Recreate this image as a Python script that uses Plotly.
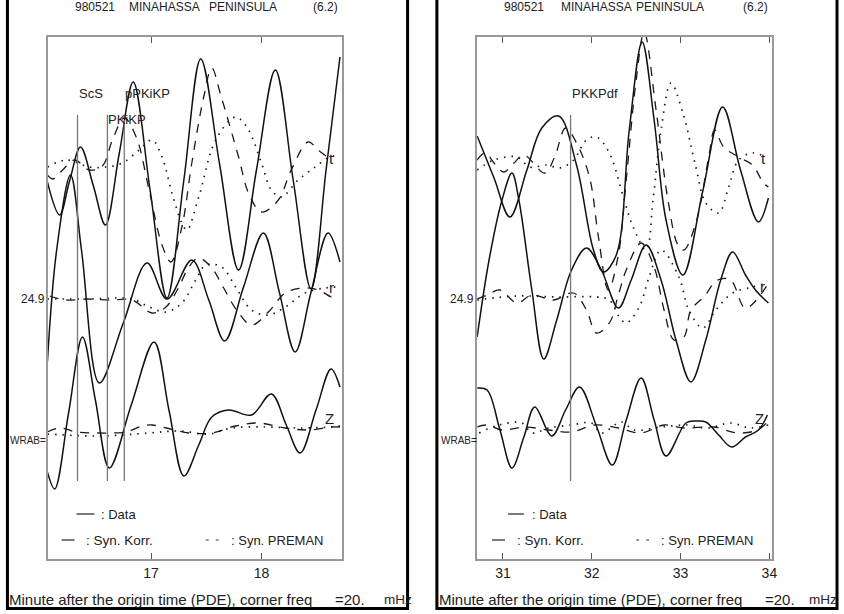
import plotly.graph_objects as go

W, H = 844, 614

# ---------------- data: minutes after origin time / relative amplitude ----------------
# Trace baselines (vertical offsets of the three components)
T_BASE, R_BASE, Z_BASE = 396, 260, 127

# ----- left window (16 - 18.7 min) -----
LT_DATA_X = [16.06, 16.171, 16.261, 16.360, 16.477, 16.586, 16.712, 16.838, 16.991, 17.144, 17.297, 17.450, 17.622, 17.793, 17.955, 18.126, 18.288, 18.450, 18.586, 18.712]
LT_DATA_Y = [-19, -52, -18, 16, -23, -62, 10, 81, -27, -135, -17, 104, -2, -107, -7, 93, -17, -126, -7, 106]
LT_KORR_X = [16.06, 16.108, 16.198, 16.306, 16.441, 16.559, 16.649, 16.757, 16.865, 16.982, 17.099, 17.180, 17.279, 17.369, 17.477, 17.550, 17.631, 17.793, 17.883, 18.000, 18.153, 18.270, 18.423, 18.514, 18.631]
LT_KORR_Y = [-12, -16, -7, 3, -7, -3, 23, 45, 26, -27, -82, -99, -64, 0, 66, 95, 68, 6, -30, -49, -37, -7, 21, 13, 3]
LT_PREM_X = [16.06, 16.234, 16.441, 16.595, 16.739, 16.892, 17.009, 17.099, 17.189, 17.279, 17.324, 17.432, 17.586, 17.766, 17.883, 18.000, 18.090, 18.180, 18.333, 18.486, 18.604, 18.694]
LT_PREM_Y = [-4, 3, -4, -4, 0, 13, 23, 6, -30, -60, -67, -34, 23, 46, 33, 0, -27, -34, -17, -4, 5, 8]

LR_DATA_X = [16.06, 16.144, 16.270, 16.369, 16.532, 16.748, 16.964, 17.144, 17.369, 17.523, 17.667, 17.838, 18.018, 18.162, 18.306, 18.450, 18.604, 18.712]
LR_DATA_Y = [-63, 49, 124, 49, -84, -24, 36, 0, 39, -1, -42, 12, 66, 7, -53, 7, 66, 37]
LR_KORR_X = [16.081, 16.234, 16.414, 16.622, 16.829, 17.009, 17.135, 17.252, 17.342, 17.432, 17.550, 17.658, 17.775, 17.910, 18.063, 18.216, 18.378, 18.514, 18.631, 18.694]
LR_KORR_Y = [3, -1, 0, -1, -1, -14, -8, 12, 32, 41, 31, 11, -11, -26, -13, 6, 11, 9, 2, -1]
LR_PREM_X = [16.06, 16.441, 16.829, 16.982, 17.135, 17.279, 17.405, 17.495, 17.640, 17.766, 17.910, 18.063, 18.216, 18.396, 18.577, 18.694]
LR_PREM_Y = [0, 0, 0, -8, -13, -4, 19, 34, 32, 12, -11, -16, -8, 6, 11, 12]

LZ_DATA_X = [16.06, 16.126, 16.252, 16.378, 16.495, 16.622, 16.820, 17.027, 17.162, 17.297, 17.432, 17.550, 17.703, 17.910, 18.090, 18.225, 18.351, 18.495, 18.631, 18.712]
LZ_DATA_Y = [-40, -57, 19, 95, 32, -36, 27, 90, 22, -44, -13, 15, 22, 17, 38, 7, -21, 22, 63, 45]
LZ_KORR_X = [16.06, 16.171, 16.324, 16.505, 16.649, 16.775, 16.919, 17.009, 17.135, 17.342, 17.550, 17.766, 17.973, 18.216, 18.423, 18.631, 18.712]
LZ_KORR_Y = [0, 4, 0, -1, -1, 0, 6, 7, 4, -1, -1, 6, 9, 4, 2, 5, 5]
LZ_PREM_X = [16.06, 16.532, 16.982, 17.252, 17.523, 17.730, 18.036, 18.333, 18.631, 18.712]
LZ_PREM_Y = [-2, -4, -1, 1, -2, 4, 5, 4, 5, 6]

# ----- right window (30.7 - 34 min) -----
RT_DATA_X = [30.709, 30.899, 31.078, 31.269, 31.437, 31.627, 31.828, 32.019, 32.131, 32.276, 32.422, 32.567, 32.702, 32.836, 33.026, 33.250, 33.474, 33.675, 33.877, 33.989]
RT_DATA_Y = [27, -15, -54, -7, 35, 47, -2, -87, -109, -92, 33, 121, 43, -57, -112, -28, 56, -7, -59, -35]
RT_KORR_X = [30.709, 30.799, 30.933, 31.011, 31.123, 31.235, 31.470, 31.582, 31.705, 31.828, 31.974, 32.075, 32.187, 32.299, 32.388, 32.500, 32.590, 32.724, 32.858, 32.970, 33.037, 33.172, 33.317, 33.384, 33.485, 33.653, 33.810, 33.933, 33.989]
RT_KORR_Y = [3, 10, -4, -9, 0, 8, -10, 6, 35, 20, -14, -74, -127, -92, -17, 83, 131, 53, -37, -82, -87, -60, 6, 33, 16, 6, -2, -20, -24]
RT_PREM_X = [30.709, 30.899, 31.157, 31.302, 31.493, 31.638, 31.795, 31.940, 32.052, 32.198, 32.355, 32.466, 32.612, 32.690, 32.780, 32.892, 33.026, 33.172, 33.284, 33.429, 33.541, 33.653, 33.810, 33.955]
RT_PREM_Y = [-7, 3, 6, -4, -2, -5, 3, 23, 26, 10, -34, -64, -87, -37, 33, 80, 50, -4, -40, -50, -24, 3, 10, 6]

RR_DATA_X = [30.709, 30.843, 30.989, 31.101, 31.179, 31.325, 31.459, 31.605, 31.772, 31.940, 32.108, 32.299, 32.444, 32.612, 32.780, 32.948, 33.116, 33.284, 33.452, 33.586, 33.731, 33.843, 33.989]
RR_DATA_Y = [-38, 39, 99, 126, 99, 9, -60, -21, 29, 51, 29, -9, 19, 54, 19, -41, -83, -41, 19, 47, 24, 9, -4]
RR_KORR_X = [30.709, 30.821, 30.966, 31.157, 31.325, 31.571, 31.795, 31.940, 32.052, 32.198, 32.299, 32.388, 32.556, 32.702, 32.814, 32.925, 33.037, 33.116, 33.261, 33.418, 33.564, 33.731, 33.978]
RR_KORR_Y = [0, 4, 9, -4, 4, -1, 6, -11, -34, -24, 4, 29, 56, 32, -11, -41, -38, -11, 2, 19, 19, -9, 14]
RR_PREM_X = [30.709, 31.157, 31.605, 32.052, 32.198, 32.310, 32.388, 32.534, 32.646, 32.780, 32.981, 33.093, 33.250, 33.396, 33.586, 33.810, 33.989]
RR_PREM_Y = [-1, 3, 2, 2, -1, -18, -24, -8, 22, 49, 22, -11, -29, -11, 6, 12, 16]

RZ_DATA_X = [30.709, 30.821, 30.966, 31.101, 31.235, 31.358, 31.549, 31.705, 31.862, 32.052, 32.231, 32.388, 32.556, 32.702, 32.836, 33.060, 33.172, 33.284, 33.429, 33.575, 33.731, 33.877, 33.978]
RZ_DATA_Y = [44, 42, 2, -36, -5, 25, -4, 22, 45, 6, -33, 12, 54, 12, -24, 9, 11, 10, -3, -15, -5, 2, 17]
RZ_KORR_X = [30.709, 30.821, 30.989, 31.246, 31.515, 31.772, 32.030, 32.299, 32.556, 32.814, 33.037, 33.373, 33.642, 33.866, 33.978]
RZ_KORR_Y = [5, 7, 2, 5, 2, 0, 7, 4, -1, 7, 4, 5, -1, 2, 10]
RZ_PREM_X = [30.731, 30.955, 31.213, 31.325, 31.515, 31.772, 31.996, 32.108, 32.332, 32.478, 32.780, 33.082, 33.306, 33.564, 33.787, 33.989]
RZ_PREM_Y = [-1, 7, 9, -1, 4, 7, 9, -1, 10, 2, 5, 7, 4, 9, 4, 7]

# Phase arrivals (minutes)
LEFT_PHASES = ["ScS", "PKiKP", "pPKiKP"]
LEFT_PHASE_T = [16.333, 16.604, 16.757]
RIGHT_PHASES = ["PKKPdf"]
RIGHT_PHASE_T = [31.761]

LEFT_TICKS = [17, 18]
RIGHT_TICKS = [31, 32, 33, 34]
LEFT_RANGE = [16.063, 18.730]
RIGHT_RANGE = [30.709, 34.034]

TITLE_PARTS = ["980521", "MINAHASSA", "PENINSULA", "(6.2)"]
XLABEL_PARTS = ["Minute after the origin time (PDE), corner freq", "=20.", "mHz"]
XLABEL_SIZES = [15, 15, 13.5]
STATION = "WRAB="
SCALE = "24.9"
COMPONENTS = ["t", "r", "Z"]
LEGEND_TEXT = [": Data", ": Syn. Korr.", ": Syn. PREMAN"]

# ---------------- figure ----------------
FONT = "Liberation Sans"
INK = "#111111"
TXT = "#222222"


def px(x):
    return x / W


def py(y):
    return 1 - y / H


fig = go.Figure()

STYLE = {
    "data": dict(color=INK, width=1.5),
    "korr": dict(color="#1a1a1a", width=1.3, dash="9px,8px"),
    "prem": dict(color="#1a1a1a", width=1.7, dash="1.5px,6px"),
}

left_sets = [
    (LT_DATA_X, LT_DATA_Y, T_BASE, "data"), (LT_KORR_X, LT_KORR_Y, T_BASE, "korr"), (LT_PREM_X, LT_PREM_Y, T_BASE, "prem"),
    (LR_DATA_X, LR_DATA_Y, R_BASE, "data"), (LR_KORR_X, LR_KORR_Y, R_BASE, "korr"), (LR_PREM_X, LR_PREM_Y, R_BASE, "prem"),
    (LZ_DATA_X, LZ_DATA_Y, Z_BASE, "data"), (LZ_KORR_X, LZ_KORR_Y, Z_BASE, "korr"), (LZ_PREM_X, LZ_PREM_Y, Z_BASE, "prem"),
]
right_sets = [
    (RT_DATA_X, RT_DATA_Y, T_BASE, "data"), (RT_KORR_X, RT_KORR_Y, T_BASE, "korr"), (RT_PREM_X, RT_PREM_Y, T_BASE, "prem"),
    (RR_DATA_X, RR_DATA_Y, R_BASE, "data"), (RR_KORR_X, RR_KORR_Y, R_BASE, "korr"), (RR_PREM_X, RR_PREM_Y, R_BASE, "prem"),
    (RZ_DATA_X, RZ_DATA_Y, Z_BASE, "data"), (RZ_KORR_X, RZ_KORR_Y, Z_BASE, "korr"), (RZ_PREM_X, RZ_PREM_Y, Z_BASE, "prem"),
]

for sets, xa, ya in [(left_sets, "x", "y"), (right_sets, "x2", "y2")]:
    for xs, ys, base, kind in sets:
        fig.add_trace(go.Scatter(
            x=xs, y=[base + v for v in ys], mode="lines",
            line=dict(shape="spline", smoothing=1.0, **STYLE[kind]),
            xaxis=xa, yaxis=ya, showlegend=False, hoverinfo="skip"))

shapes = []
annotations = []

# phase marker lines + labels
PH_TOP, PH_BOT = 559 - 115, 559 - 481
for names, times, xr, yr in [(LEFT_PHASES, LEFT_PHASE_T, "x", "y"), (RIGHT_PHASES, RIGHT_PHASE_T, "x2", "y2")]:
    for name, t in zip(names, times):
        top = PH_TOP - (5 if name == "pPKiKP" else 0)
        shapes.append(dict(type="line", xref=xr, yref=yr, x0=t, x1=t, y0=PH_BOT, y1=top,
                           line=dict(color="#777777", width=1.3)))
        ly = 559 - (119 if name == "PKiKP" else 93)
        annotations.append(dict(xref=xr, yref=yr, x=t, y=ly, text=name, showarrow=False,
                                xanchor="left", yanchor="middle", xshift=-1,
                                font=dict(family=FONT, size=13, color=TXT)))

# Per-panel layout pixels
panels = [
    dict(bx0=7.5, bx1=410, title_x=[73, 128, 208, 313], xl=[7, 335, 384], ax0=48,
         scale_x=33, st_x=8, comp=[(333, 158), (333, 287), (331, 418)],
         leg_data=(77, 95, 100), leg_korr=(62, 75, 85), leg_prem=(207, 230)),
    dict(bx0=439.5, bx1=842, title_x=[505, 562, 638, 745], xl=[440, 768, 812], ax0=480,
         scale_x=465, st_x=442, comp=[(768, 158), (767, 286), (764, 418)],
         leg_data=(511, 527, 533), leg_korr=(495, 508, 518), leg_prem=(640, 663)),
]

for p in panels:
    # outer black frame
    shapes.append(dict(type="rect", xref="paper", yref="paper", x0=px(p["bx0"]), x1=px(p["bx1"]),
                       y0=py(608.5), y1=py(-6), line=dict(color="black", width=3)))
    for txt, x in zip(TITLE_PARTS, p["title_x"]):
        annotations.append(dict(xref="paper", yref="paper", x=px(x), y=py(7), text=txt, showarrow=False,
                                xanchor="left", yanchor="middle", font=dict(family=FONT, size=12, color=TXT)))
    for txt, x, s in zip(XLABEL_PARTS, p["xl"], XLABEL_SIZES):
        annotations.append(dict(xref="paper", yref="paper", x=px(x), y=py(599), text=txt, showarrow=False,
                                xanchor="left", yanchor="middle", font=dict(family=FONT, size=s, color=TXT)))
    annotations.append(dict(xref="paper", yref="paper", x=px(p["scale_x"]), y=py(299), text=SCALE, showarrow=False,
                            xanchor="center", yanchor="middle", font=dict(family=FONT, size=12, color=TXT)))
    annotations.append(dict(xref="paper", yref="paper", x=px(p["st_x"]), y=py(440), text=STATION, showarrow=False,
                            xanchor="left", yanchor="middle", font=dict(family=FONT, size=10, color=TXT)))
    for c, (cx, cy) in zip(COMPONENTS, p["comp"]):
        annotations.append(dict(xref="paper", yref="paper", x=px(cx), y=py(cy), text=c, showarrow=False,
                                xanchor="center", yanchor="middle", font=dict(family=FONT, size=15, color=TXT)))
    # legend
    d0, d1, dt = p["leg_data"]
    shapes.append(dict(type="line", xref="paper", yref="paper", x0=px(d0), x1=px(d1), y0=py(514), y1=py(514),
                       line=dict(color="#333", width=1.3)))
    annotations.append(dict(xref="paper", yref="paper", x=px(dt), y=py(514), text=LEGEND_TEXT[0], showarrow=False,
                            xanchor="left", yanchor="middle", font=dict(family=FONT, size=13, color=TXT)))
    k0, k1, kt = p["leg_korr"]
    shapes.append(dict(type="line", xref="paper", yref="paper", x0=px(k0), x1=px(k1), y0=py(540), y1=py(540),
                       line=dict(color="#333", width=1.3)))
    annotations.append(dict(xref="paper", yref="paper", x=px(kt), y=py(540), text=LEGEND_TEXT[1], showarrow=False,
                            xanchor="left", yanchor="middle", font=dict(family=FONT, size=13.5, color=TXT)))
    q0, qt = p["leg_prem"]
    for off in (0, 10):
        shapes.append(dict(type="line", xref="paper", yref="paper", x0=px(q0 + off), x1=px(q0 + off + 3),
                           y0=py(540), y1=py(540), line=dict(color="#555", width=1.2)))
    annotations.append(dict(xref="paper", yref="paper", x=px(qt), y=py(540), text=LEGEND_TEXT[2], showarrow=False,
                            xanchor="left", yanchor="middle", font=dict(family=FONT, size=13, color=TXT)))

AXCOL = "#999999"
xcommon = dict(showgrid=False, zeroline=False, showline=True, linecolor=AXCOL, linewidth=1.5, mirror="ticks",
               ticks="inside", ticklen=6, tickcolor="#555", tickwidth=1,
               tickfont=dict(family=FONT, size=14, color=TXT))
ycommon = dict(showgrid=False, zeroline=False, showline=True, linecolor=AXCOL, linewidth=1.5, mirror=True,
               showticklabels=False, ticks="", range=[0, 522], fixedrange=True)
YDOM = [1 - 559 / H, 1 - 37 / H]

fig.update_layout(
    width=W, height=H, margin=dict(l=0, r=0, t=0, b=0),
    paper_bgcolor="white", plot_bgcolor="white", showlegend=False,
    xaxis=dict(domain=[48 / W, 344 / W], range=LEFT_RANGE, tickvals=LEFT_TICKS, anchor="y", **xcommon),
    yaxis=dict(domain=YDOM, anchor="x", **ycommon),
    xaxis2=dict(domain=[480 / W, 777 / W], range=RIGHT_RANGE, tickvals=RIGHT_TICKS, anchor="y2", **xcommon),
    yaxis2=dict(domain=YDOM, anchor="x2", **ycommon),
    shapes=shapes, annotations=annotations,
)

fig.write_html("out.html")
